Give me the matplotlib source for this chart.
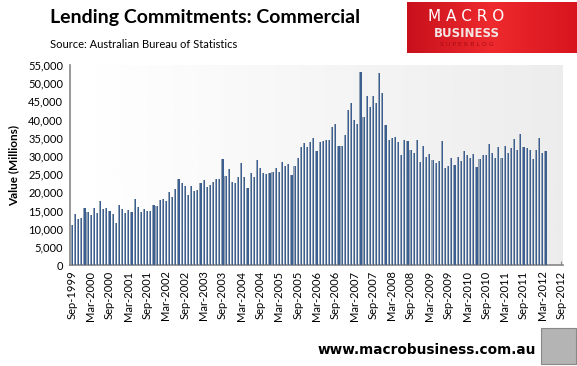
import numpy as np
import pandas as pd
import matplotlib
matplotlib.use("Agg")
import matplotlib.pyplot as plt
from matplotlib.patches import Rectangle
from matplotlib.colors import LinearSegmentedColormap
from matplotlib.ticker import FuncFormatter

# monthly commercial lending commitments, $ millions, Sep-1999 .. May-2012
values = [
    11000, 14000, 12550, 13000, 15600, 14670, 13750, 15600, 14200, 17600,
    15300, 15600, 14850, 13900, 11450, 16500, 15300, 14400, 15100, 14500,
    18150, 15850, 14500, 15300, 14950, 14750, 16500, 16200, 17900, 18150,
    17600, 20000, 18800, 20900, 23650, 22450, 21700, 19300, 21700, 20300,
    20600, 22450, 23400, 21400, 22000, 22900, 23650, 23650, 29150, 24500,
    26400, 22740, 22450, 24100, 27960, 24100, 21080, 25200, 24100, 28875,
    26580, 25200, 24930, 25200, 25670, 26580, 25480, 28230, 27220, 27680,
    24660, 27220, 29330, 32360, 33460, 32360, 33830, 34830, 31440, 33830,
    34100, 34280, 34280, 37850, 38775, 32725, 32725, 35660, 42625, 44460,
    39875, 38775, 53170, 40610, 46570, 43540, 46570, 44460, 52710, 47200,
    38500, 34375, 34830, 35100, 33740, 30250, 34375, 34100, 31625, 30900,
    34375, 28230, 32725, 29790, 30525, 28875, 27960, 28600, 34100, 26580,
    27220, 29330, 27500, 29600, 28600, 31350, 30250, 29330, 30430, 26860,
    29060, 30250, 30250, 33275, 30700, 29330, 32360, 29330, 32725, 30700,
    32100, 34560, 31625, 36025, 32360, 32100, 31625, 29150, 31625, 34830,
    30700, 31350,
]
months = pd.date_range("1999-09-01", periods=157, freq="MS")
tick_pos = list(range(0, 157, 6))
tick_labels = [months[i].strftime("%b-%Y") for i in tick_pos]
y_ticks = list(range(0, 55001, 5000))

fig = plt.figure(figsize=(5.77, 3.66), dpi=100)
fig.patch.set_facecolor("white")
ax = fig.add_axes([70/577, 1-265/366, 493/577, 200/366])

# plot area gradient, white -> light grey
grad = np.linspace(1.0, 0.925, 256).reshape(1, -1)
ax.imshow(grad, cmap="gray", vmin=0, vmax=1, aspect="auto",
          extent=[-0.6, 156.6, 0, 55000], zorder=0)

x = np.arange(len(values))
ax.bar(x, values, width=0.7, color="#93a1b4", linewidth=0, zorder=2)
ax.bar(x + 0.17, values, width=0.36, color="#3a5f90", linewidth=0, zorder=3)

ax.set_xlim(-0.6, 156.6)
ax.set_ylim(0, 55000)
ax.set_yticks(y_ticks)
ax.yaxis.set_major_formatter(FuncFormatter(lambda v, p: f"{int(v):,}"))
ax.set_xticks(tick_pos)
ax.set_xticklabels(tick_labels, rotation=90, fontsize=8, family="Lato")
for lab in ax.get_yticklabels():
    lab.set_fontsize(8)
    lab.set_family("Lato")
ax.tick_params(axis="x", direction="in", length=3, color="#868686", pad=4)
ax.tick_params(axis="y", length=0, pad=5)
for s in ["top", "right"]:
    ax.spines[s].set_visible(False)
for s in ["left", "bottom"]:
    ax.spines[s].set_color("#868686")
    ax.spines[s].set_linewidth(1.2)
ax.set_ylabel("Value (Millions)", fontsize=8.5, fontweight="bold", family="Lato", labelpad=6)

fig.text(50/577, 1-18/366, "Lending Commitments: Commercial", fontsize=14,
         fontweight="bold", family="Lato", va="center", ha="left")
fig.text(50/577, 1-45/366, "Source: Australian Bureau of Statistics", fontsize=8,
         family="Lato", va="center", ha="left")

# logo box
logo = fig.add_axes([407/577, 1-53/366, 170/577, 51/366])
red = np.linspace(0, 1, 256).reshape(1, -1)
cm = LinearSegmentedColormap.from_list("r", ["#c8101c", "#ee2a2e", "#d8141e"])
logo.imshow(red, cmap=cm, aspect="auto", extent=[0, 1, 0, 1])
logo.set_axis_off()
logo.text(0.35, 0.72, "M A C R O", color="white", fontsize=11, ha="center", va="center",
          family="DejaVu Sans")
logo.text(0.35, 0.38, "BUSINESS", color="#f4e4e4", fontsize=8.5, ha="center", va="center",
          family="DejaVu Sans", fontweight="bold")
logo.text(0.35, 0.17, "S U P E R B L O G", color="#a80c14", fontsize=4.5, ha="center",
          va="center", family="DejaVu Sans")

fig.text(536/577, 1-350/366, "www.macrobusiness.com.au", fontsize=9.8, fontweight="bold",
         family="DejaVu Sans", ha="right", va="center")
fig.patches.append(Rectangle((541/577, 1-364/366), 35/577, 36/366, transform=fig.transFigure,
                             facecolor="#b4b4b4", edgecolor="#888888", lw=0.8))

fig.savefig("out.png", dpi=100)
